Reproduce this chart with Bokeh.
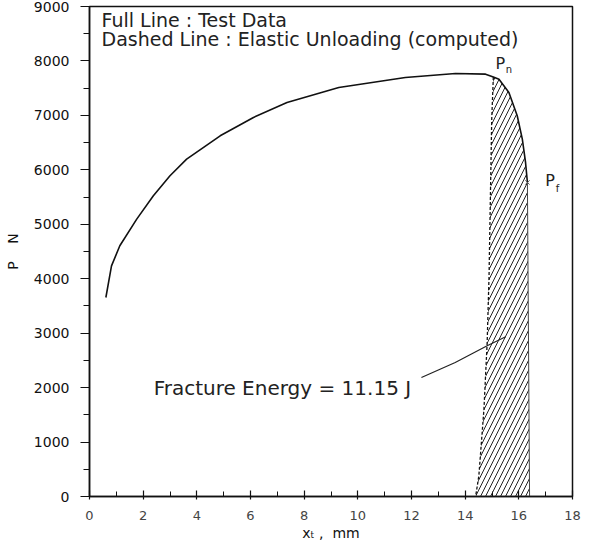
from bokeh.plotting import figure
from bokeh.models import Range1d, Label, SingleIntervalTicker
from bokeh.embed import file_html
from bokeh.resources import INLINE

# ---- data ----
# test data curve (x_t in mm, P in N)
curve_x = [0.61, 0.82, 1.13, 1.76, 2.38, 3.00, 3.62, 4.87, 6.11, 7.36, 9.29,
           11.77, 13.64, 14.76, 15.05, 15.26, 15.63, 15.94, 16.13, 16.25, 16.32]
curve_p = [3655, 4237, 4605, 5094, 5523, 5891, 6196, 6625, 6962, 7237, 7513,
           7697, 7770, 7757, 7705, 7665, 7421, 6993, 6564, 6135, 5768]
PN_INDEX = 14   # P_n (start of elastic unloading)
# computed elastic unloading (dashed)
dashed_x = [15.05, 14.99, 14.89, 14.82, 14.70, 14.51, 14.39]
dashed_p = [7705, 6930, 4054, 2829, 1604, 380, 0]
# right edge of the hatched fracture-energy area (from P_f down)
edge_x = [16.32, 16.40]
edge_p = [5768, 0]
# leader line of the annotation
leader_x = [12.37, 13.63, 14.82, 15.51]
leader_p = [2186, 2461, 2768, 2933]

x_ticks_interval = 2
y_ticks_interval = 1000

FONT = "DejaVu Sans"

p = figure(width=581, height=543, x_range=Range1d(0, 18), y_range=Range1d(0, 9000),
           output_backend="svg", toolbar_location=None,
           min_border_left=89, min_border_right=9, min_border_top=6, min_border_bottom=47)
p.grid.visible = False
p.background_fill_color = "white"
p.border_fill_color = "white"
p.outline_line_color = "#111111"
p.outline_line_width = 1.5

p.xaxis.ticker = SingleIntervalTicker(interval=x_ticks_interval, num_minor_ticks=2)
p.yaxis.ticker = SingleIntervalTicker(interval=y_ticks_interval, num_minor_ticks=2)

for ax in (p.xaxis, p.yaxis):
    ax.axis_line_color = "#111111"
    ax.axis_line_width = 1.5
    ax.major_tick_line_color = "#111111"
    ax.minor_tick_line_color = "#111111"
    ax.major_tick_line_width = 1.2
    ax.minor_tick_line_width = 1.0
    ax.major_label_text_font = FONT
    ax.axis_label_text_font = FONT
    ax.axis_label_text_font_style = "normal"
    ax.axis_label_text_color = "#111111"

p.xaxis.major_tick_in = 6
p.xaxis.major_tick_out = 3
p.xaxis.minor_tick_in = 5
p.xaxis.minor_tick_out = 0
p.xaxis.major_label_text_font_size = "13px"
p.xaxis.major_label_text_color = "#444444"
p.xaxis.major_label_standoff = 11
p.xaxis.axis_label = "x\u209c\u00a0,\u00a0\u00a0mm"
p.xaxis.axis_label_text_font_size = "14px"
p.xaxis.axis_label_standoff = 2

p.yaxis.major_tick_in = 0
p.yaxis.major_tick_out = 9
p.yaxis.minor_tick_in = 0
p.yaxis.minor_tick_out = 6
p.yaxis.major_label_text_font_size = "14px"
p.yaxis.major_label_text_color = "#111111"
p.yaxis.major_label_standoff = 11
p.yaxis.axis_label = "P\u00a0\u00a0\u00a0\u00a0N"
p.yaxis.axis_label_text_font_size = "14px"
p.yaxis.axis_label_standoff = 10

# hatched fracture-energy area
hx = dashed_x + edge_x[::-1] + curve_x[len(curve_x) - 2:PN_INDEX:-1]
hp = dashed_p + edge_p[::-1] + curve_p[len(curve_p) - 2:PN_INDEX:-1]
p.patch(hx, hp, fill_color=None, line_alpha=0, hatch_pattern="/",
        hatch_color="#222222", hatch_scale=10, hatch_weight=1)

p.line(edge_x, edge_p, line_color="#444444", line_width=1)
p.line(dashed_x, dashed_p, line_color="#111111", line_width=1.3, line_dash="3 2")
p.line(curve_x, curve_p, line_color="#111111", line_width=1.6)
p.line(leader_x, leader_p, line_color="#222222", line_width=1.2)
p.scatter([curve_x[-1]], [curve_p[-1]], marker="x", size=6, line_color="#555555", line_width=1)

def lab(x, y, text, size, baseline="alphabetic", align="left", color="#222222"):
    p.add_layout(Label(x=x, y=y, text=text, text_font=FONT, text_font_size=size,
                       text_baseline=baseline, text_align=align, text_color=color))

lab(0.45, 8744, "Full Line : Test Data", "19px")
lab(0.45, 8395, "Dashed Line : Elastic Unloading (computed)", "19px")
lab(2.39, 1984, "Fracture Energy = 11.15 J", "20px")
lab(15.31, 7954, "P", "16px", baseline="middle", align="center")
lab(15.63, 7849, "n", "10px", baseline="middle", align="center")
lab(17.16, 5795, "P", "16px", baseline="middle", align="center")
lab(17.44, 5658, "f", "10px", baseline="middle", align="center")

open("out.html", "w").write(file_html(p, INLINE))
